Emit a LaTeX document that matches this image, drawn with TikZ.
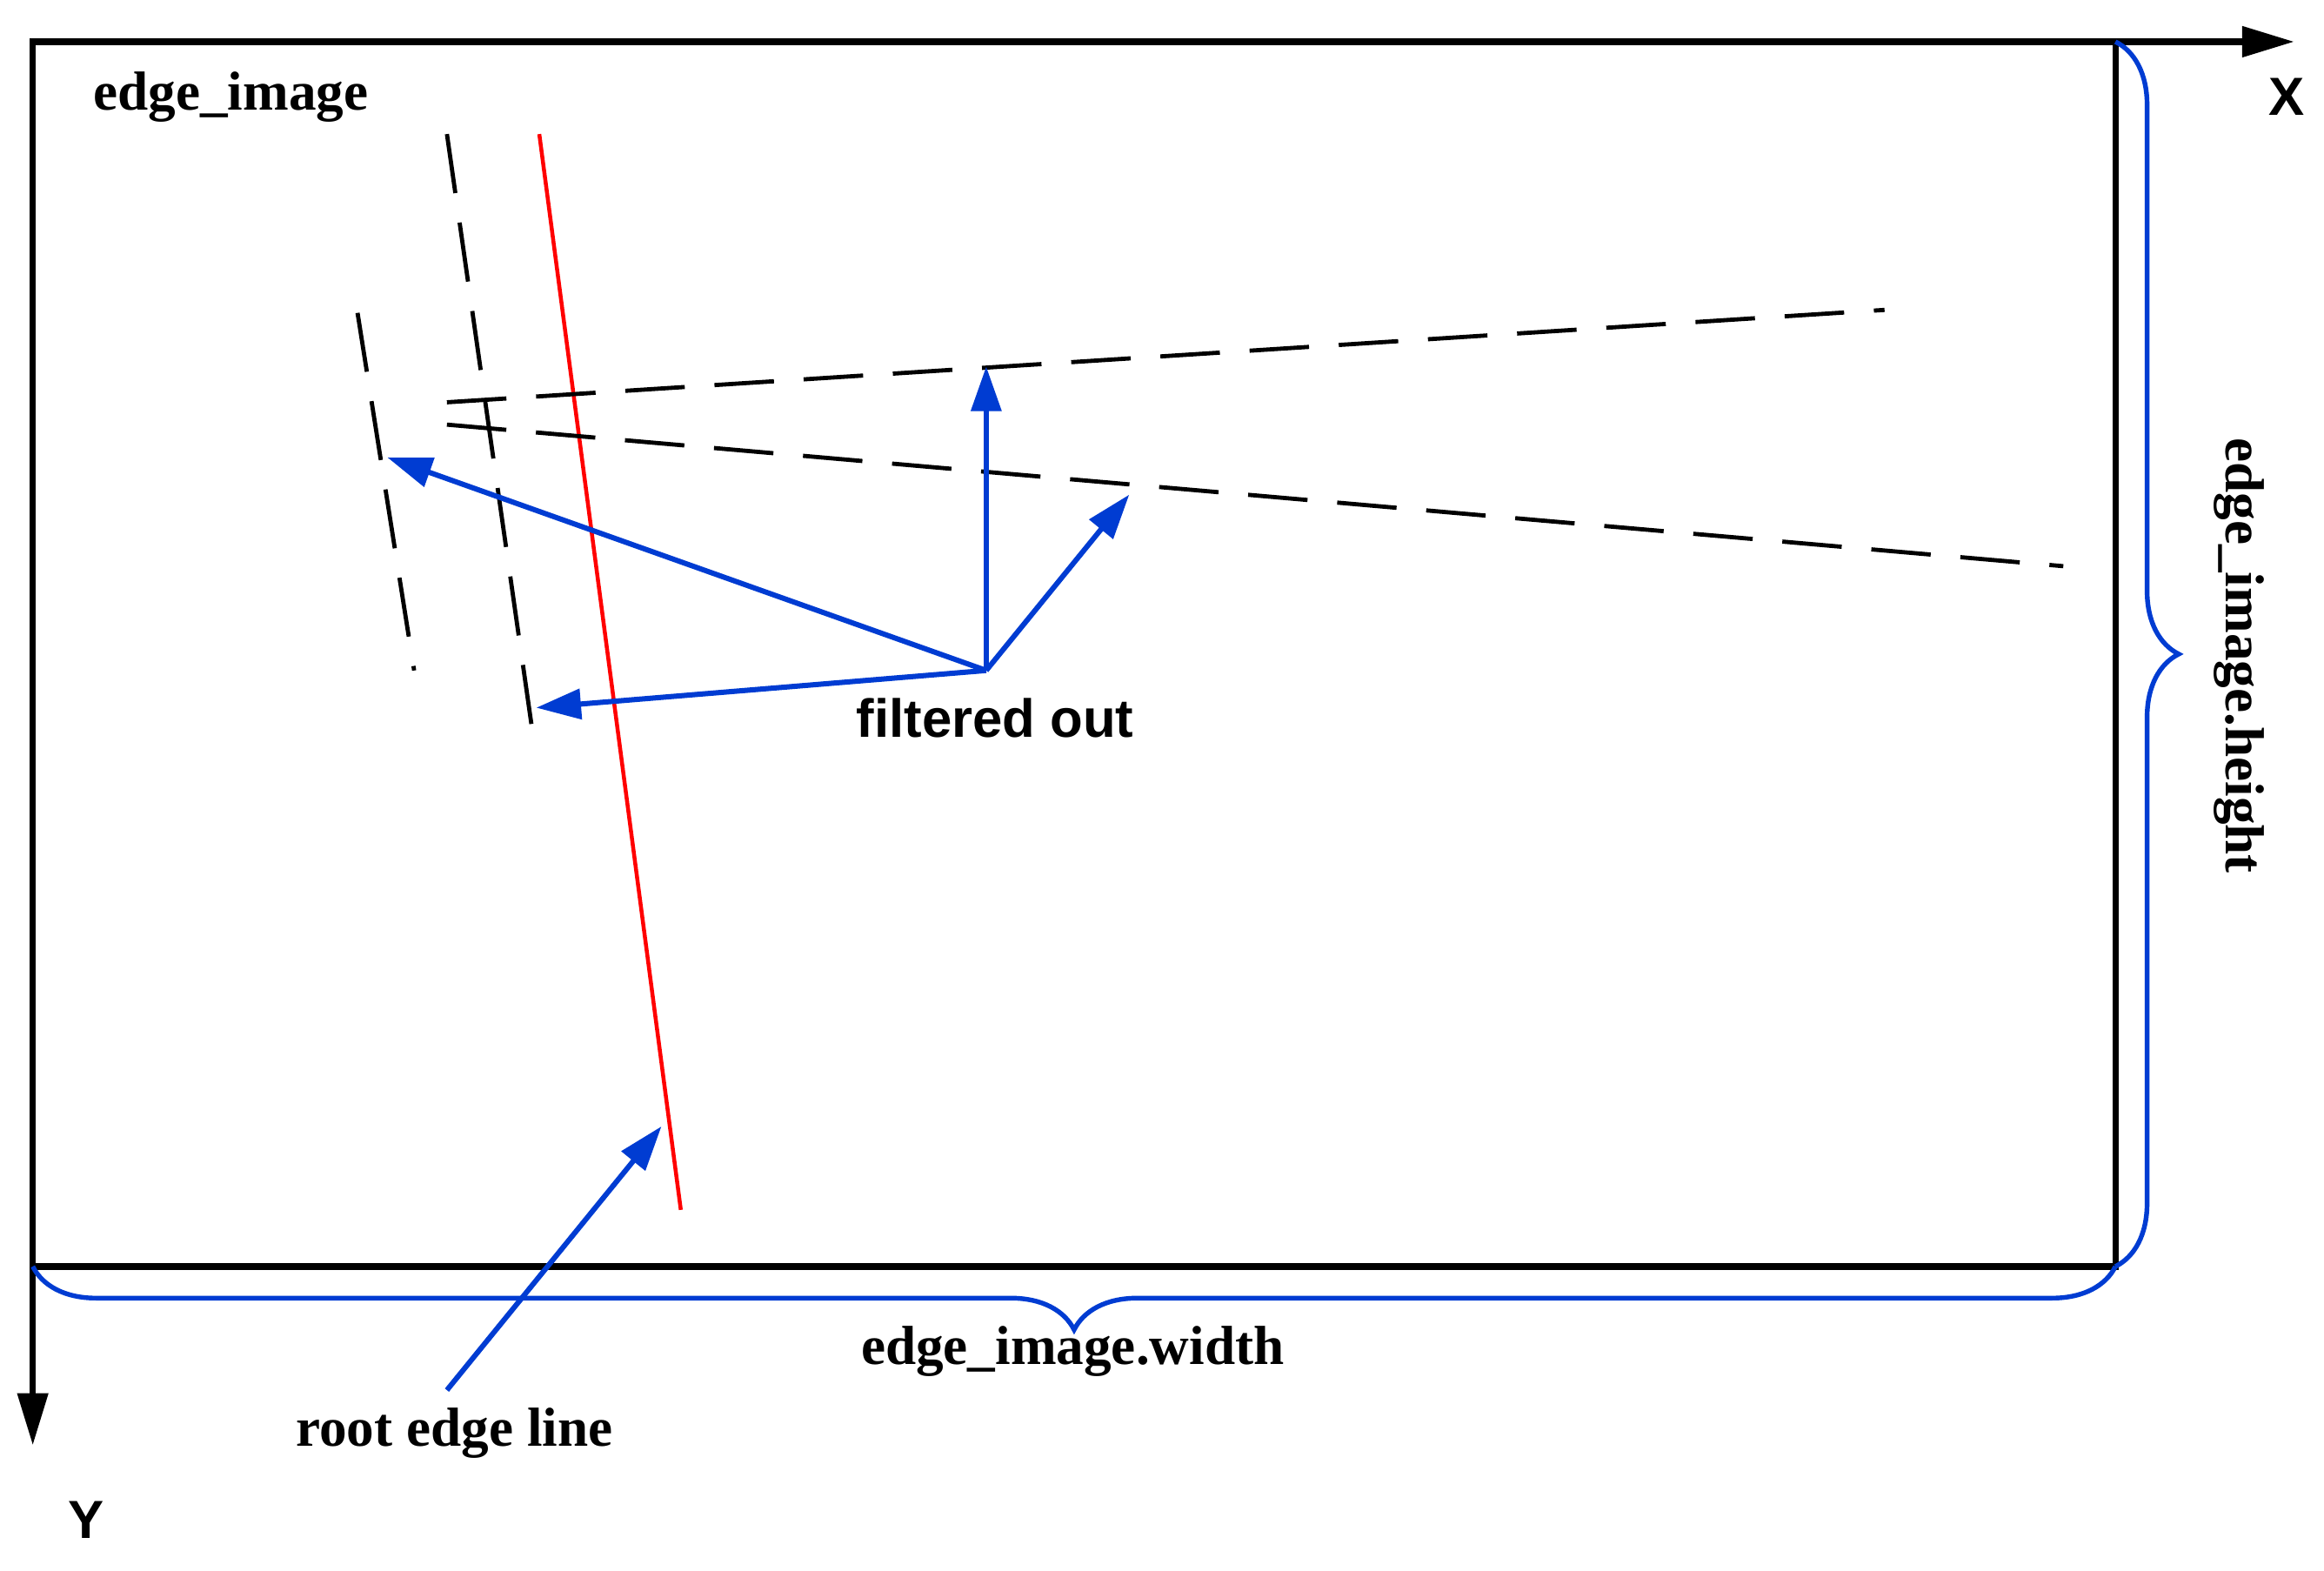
\documentclass[tikz,border=0pt]{standalone}
\usepackage{fontspec}
\setmainfont{Liberation Serif}
\newfontfamily\sansf{Liberation Sans}
\usetikzlibrary{arrows.meta,decorations.pathreplacing}
\definecolor{bl}{RGB}{0,60,210}
\begin{document}
\begin{tikzpicture}[x=0.02cm,y=-0.02cm,
  lab/.style={font=\fontsize{21}{24}\selectfont\bfseries},
  slab/.style={font=\sansf\fontsize{20.5}{24}\selectfont\bfseries},
  dsh/.style={line width=1.6pt,dash pattern=on 0.8cm off 0.4cm},
  barr/.style={bl,line width=2pt,-{Triangle[length=0.6cm,width=0.4cm]}},
  brc/.style={bl,line width=1.8pt,decorate,decoration={brace,amplitude=0.85cm}}]
\useasboundingbox (0,0) rectangle (1560,1054);
\coordinate (O) at (22,28);
\coordinate (R) at (1420,850);
\coordinate (XE) at (1540,28);
\coordinate (YE) at (22,970);
\draw[line width=2.4pt] (O) rectangle (R);
\draw[line width=2.4pt,-{Triangle[length=0.7cm,width=0.4cm]}] (O) -- (XE);
\draw[line width=2.4pt,-{Triangle[length=0.7cm,width=0.4cm]}] (O) -- (YE);
\node[slab] (X) at (1535,65) {X};
\node[slab] (Y) at (58,1020) {Y};
\node[lab] (ei) at (155,65) {edge\_image};
\coordinate (r1) at (362,90); \coordinate (r2) at (457,812);
\draw[red,line width=1.5pt] (r1) -- (r2);
\coordinate (d1a) at (300,90); \coordinate (d1b) at (358,495);
\coordinate (d2a) at (240,210); \coordinate (d2b) at (278,450);
\coordinate (d3a) at (300,270); \coordinate (d3b) at (1265,208);
\coordinate (d4a) at (300,285); \coordinate (d4b) at (1385,380);
\draw[dsh] (d1a) -- (d1b);
\draw[dsh] (d2a) -- (d2b);
\draw[dsh] (d3a) -- (d3b);
\draw[dsh] (d4a) -- (d4b);
\coordinate (C) at (662,450);
\coordinate (t1) at (260,307); \coordinate (t2) at (360,475);
\coordinate (t3) at (662,246); \coordinate (t4) at (758,332);
\draw[barr] (C) -- (t1);
\draw[barr] (C) -- (t2);
\draw[barr] (C) -- (t3);
\draw[barr] (C) -- (t4);
\node[slab] (fo) at (668,482) {filtered out};
\coordinate (ra) at (300,933); \coordinate (rb) at (444,756);
\draw[barr] (ra) -- (rb);
\node[lab] (rl) at (305,962) {root edge line};
\coordinate (B0) at (22,850);
\coordinate (T0) at (1420,28);
\draw[brc] (R) -- (B0);
\draw[brc] (T0) -- (R);
\node[lab] (wl) at (720,907) {edge\_image.width};
\node[lab,rotate=-90] (hl) at (1503,440) {edge\_image.height};
\end{tikzpicture}
\end{document}
